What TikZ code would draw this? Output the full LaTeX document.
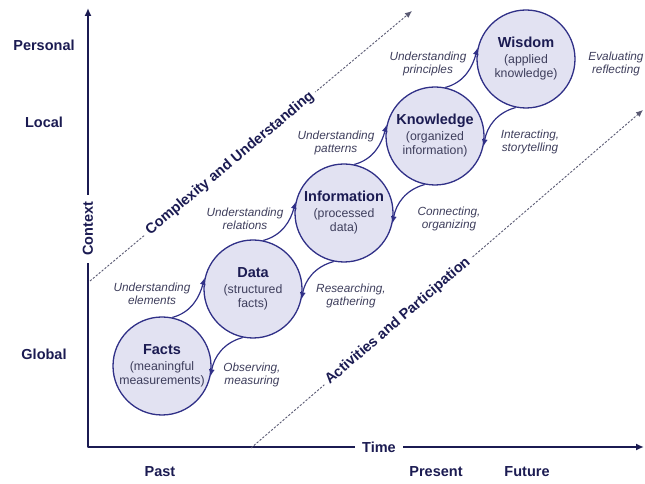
\documentclass[tikz,border=0pt]{standalone}
\usepackage{fontspec}
\setmainfont{Liberation Sans}
\usepackage{tikz}
\usetikzlibrary{arrows.meta}

\definecolor{axisnavy}{RGB}{27,27,82}
\definecolor{ringblue}{RGB}{48,48,135}
\definecolor{ringfill}{RGB}{226,226,242}
\definecolor{notegray}{RGB}{62,62,92}
\definecolor{dashgray}{RGB}{90,90,115}
\newcommand{\bigbold}{\fontsize{14.5}{16}\selectfont\bfseries}
\newcommand{\ctitle}[1]{{\bigbold\color{axisnavy}#1}\\[2pt]}

\begin{document}
\begin{tikzpicture}[x=1pt,y=1pt]
	\useasboundingbox (0,0) rectangle (645,484);
	\coordinate (O) at (88,37);
	\coordinate (Top) at (88,476);
	\coordinate (Right) at (644,37);
	\coordinate (cuA) at (90,203);
	\coordinate (cuB) at (412,473);
	\coordinate (apA) at (251,36);
	\coordinate (apB) at (643,374);

	% axes and trends
	\draw [axisnavy, line width=2.4pt, line join=round,
		{Latex[length=8pt,width=7pt]}-{Latex[length=8pt,width=7pt]}] (Top) -- (O) -- (Right);
	\begin{scope}[every node/.style={sloped, fill=white, inner sep=4pt,
			font=\bigbold, text=axisnavy}]
		\draw [dashgray, line width=0.9pt, dash pattern=on 2.2pt off 1.6pt,
			-{Latex[length=7pt,width=6pt]}] (cuA) -- node[pos=0.435] (cu) {Complexity and Understanding} (cuB);
		\draw [dashgray, line width=0.9pt, dash pattern=on 2.2pt off 1.6pt,
			-{Latex[length=7pt,width=6pt]}] (apA) -- node[pos=0.375] (ap) {Activities and Participation} (apB);
	\end{scope}

	\begin{scope}[every node/.style={font=\bigbold, text=axisnavy}]
		\node (personal) at (44,439) {Personal};
		\node (local) at (44,362) {Local};
		\node (global) at (44,130) {Global};
		\node (past) at (160,12) {Past};
		\node (present) at (436,12) {Present};
		\node (future) at (527,12) {Future};
		\node [fill=white, rotate=90, inner sep=7pt] (context) at (88,255) {Context};
		\node [fill=white, inner sep=7pt] (time) at (379,37) {Time};
	\end{scope}

	\begin{scope}[every node/.style={circle, draw=ringblue, fill=ringfill,
			line width=1.3pt, minimum size=98pt, inner sep=0pt, align=center,
			text=notegray, font=\fontsize{12.3}{14}\selectfont}]
		\node (F) at (162,118) {\ctitle{Facts}(meaningful\\measurements)};
		\node (D) at (253,195) {\ctitle{Data}(structured\\facts)};
		\node (I) at (344,271) {\ctitle{Information}(processed\\data)};
		\node (K) at (435,348) {\ctitle{Knowledge}(organized\\information)};
		\node (W) at (526,425) {\ctitle{Wisdom}(applied\\knowledge)};
	\end{scope}

	\begin{scope}[every node/.style={align=center, text=notegray,
			font=\fontsize{11.8}{12.5}\selectfont\itshape}]
		\node (elements) at (152,190) {Understanding\\elements};
		\node (relations) at (245,265) {Understanding\\relations};
		\node (patterns) at (336,341) {Understanding\\patterns};
		\node (principles) at (428,420) {Understanding\\principles};
		\node (evaluating) at (616,420) {Evaluating\\reflecting};
		\node (interacting) at (530,342) {Interacting,\\storytelling};
		\node (connecting) at (449,265) {Connecting,\\organizing};
		\node (researching) at (351,188) {Researching,\\gathering};
		\node (observing) at (252,109) {Observing,\\measuring};
	\end{scope}

	\begin{scope}[>={Latex[length=7pt,width=6pt]},
			every edge/.style={draw=ringblue, line width=1.2pt}]
		\path [->] (F.78) edge[out=15, in=-105] (D.167);
		\path [->] (D.78) edge[out=15, in=-105] (I.167);
		\path [->] (I.78) edge[out=15, in=-105] (K.167);
		\path [->] (K.78) edge[out=15, in=-105] (W.167);
		\path [->] (D.-102) edge[out=195, in=80] (F.-12);
		\path [->] (I.-102) edge[out=195, in=80] (D.-12);
		\path [->] (K.-102) edge[out=195, in=80] (I.-12);
		\path [->] (W.-102) edge[out=195, in=80] (K.-12);
	\end{scope}
\end{tikzpicture}
\end{document}
